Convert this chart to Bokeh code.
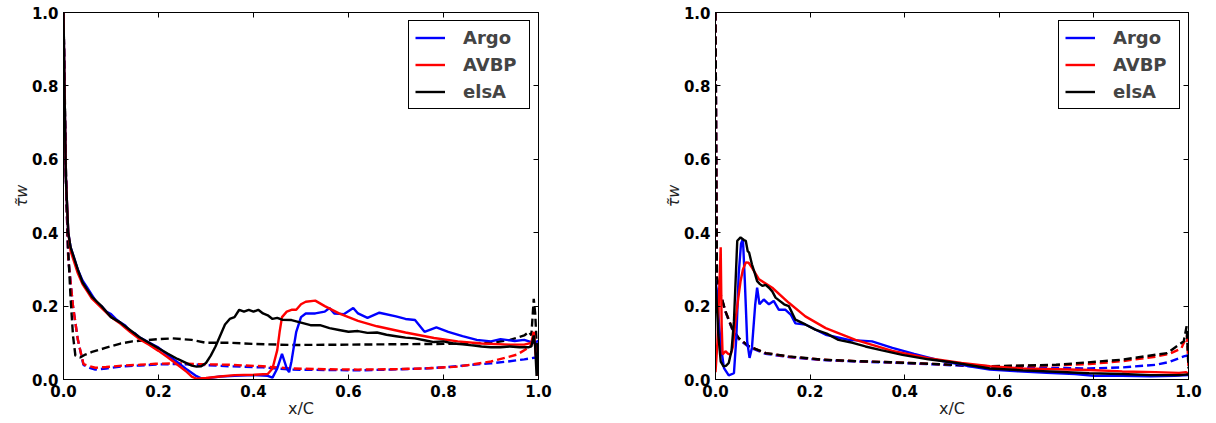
from bokeh.plotting import figure
from bokeh.layouts import row
from bokeh.models import Range1d, FixedTicker, PrintfTickFormatter, LinearAxis
from bokeh.embed import file_html
from bokeh.resources import INLINE

# ---------------- data: left panel ----------------
L_argo_x = [0.0, 0.002, 0.005, 0.01, 0.015, 0.02, 0.03, 0.04, 0.05, 0.06, 0.07, 0.08, 0.09, 0.10, 0.11,
            0.12, 0.13, 0.14, 0.15, 0.16, 0.18, 0.20, 0.22, 0.24, 0.26, 0.28, 0.29, 0.30, 0.33, 0.36,
            0.40, 0.43, 0.44, 0.45, 0.46, 0.47, 0.475, 0.48, 0.49, 0.50, 0.51, 0.53, 0.55, 0.56, 0.57,
            0.59, 0.61, 0.62, 0.64, 0.665, 0.70, 0.72, 0.74, 0.76, 0.785, 0.81, 0.84, 0.87, 0.90, 0.92,
            0.95, 0.97, 0.99, 1.0]
L_argo_y = [1.0, 0.8, 0.55, 0.40, 0.36, 0.34, 0.30, 0.27, 0.25, 0.23, 0.21, 0.20, 0.185, 0.178, 0.165,
            0.155, 0.147, 0.132, 0.126, 0.115, 0.101, 0.087, 0.066, 0.047, 0.027, 0.009, 0.003, 0.003, 0.008, 0.01,
            0.012, 0.01, 0.005, 0.03, 0.07, 0.03, 0.02, 0.05, 0.13, 0.17, 0.18, 0.18, 0.185, 0.195, 0.18,
            0.178, 0.195, 0.18, 0.168, 0.182, 0.172, 0.165, 0.162, 0.13, 0.142, 0.13, 0.118, 0.108, 0.104, 0.11,
            0.105, 0.108, 0.1, 0.105]

L_avbp_x = [0.0, 0.002, 0.005, 0.01, 0.015, 0.02, 0.03, 0.04, 0.05, 0.06, 0.08, 0.10, 0.12, 0.14, 0.16,
            0.18, 0.20, 0.22, 0.24, 0.26, 0.27, 0.28, 0.30, 0.33, 0.36, 0.40, 0.43, 0.44, 0.45, 0.455,
            0.46, 0.47, 0.48, 0.49, 0.50, 0.51, 0.53, 0.55, 0.58, 0.62, 0.66, 0.72, 0.78, 0.83, 0.88,
            0.94, 0.97, 0.985, 0.99, 0.995, 1.0]
L_avbp_y = [1.0, 0.8, 0.55, 0.40, 0.35, 0.33, 0.29, 0.26, 0.24, 0.22, 0.195, 0.17, 0.152, 0.13, 0.11,
            0.095, 0.078, 0.06, 0.04, 0.02, 0.008, 0.002, 0.004, 0.008, 0.012, 0.013, 0.015, 0.03, 0.08, 0.13,
            0.17, 0.185, 0.19, 0.19, 0.205, 0.212, 0.215, 0.2, 0.18, 0.16, 0.145, 0.128, 0.113, 0.104, 0.098,
            0.095, 0.095, 0.1, 0.13, 0.06, 0.01]

L_elsa_x = [0.0, 0.002, 0.005, 0.01, 0.015, 0.02, 0.03, 0.04, 0.05, 0.06, 0.08, 0.10, 0.12, 0.14, 0.16,
            0.18, 0.20, 0.22, 0.24, 0.26, 0.27, 0.28, 0.29, 0.30, 0.31, 0.32, 0.33, 0.34, 0.35, 0.36,
            0.37, 0.38, 0.39, 0.40, 0.41, 0.42, 0.43, 0.44, 0.45, 0.46, 0.48, 0.50, 0.52, 0.54, 0.56,
            0.58, 0.60, 0.62, 0.64, 0.66, 0.68, 0.70, 0.72, 0.74, 0.76, 0.78, 0.80, 0.82, 0.84, 0.86,
            0.88, 0.90, 0.92, 0.94, 0.96, 0.98, 0.985, 0.99, 0.993, 0.996, 1.0]
L_elsa_y = [1.0, 0.8, 0.55, 0.40, 0.36, 0.34, 0.30, 0.265, 0.245, 0.225, 0.2, 0.17, 0.155, 0.135, 0.115,
            0.1, 0.085, 0.07, 0.056, 0.044, 0.038, 0.035, 0.036, 0.045, 0.065, 0.09, 0.12, 0.15, 0.165, 0.17,
            0.19, 0.185, 0.19, 0.185, 0.19, 0.18, 0.175, 0.165, 0.168, 0.163, 0.162, 0.155, 0.148, 0.148, 0.14,
            0.135, 0.13, 0.132, 0.127, 0.128, 0.122, 0.118, 0.114, 0.112, 0.107, 0.102, 0.104, 0.098, 0.096, 0.093,
            0.09, 0.088, 0.088, 0.09, 0.088, 0.088, 0.09, 0.12, 0.09, 0.01, 0.1]

L_argo_ps_x = [0.0, 0.003, 0.006, 0.01, 0.02, 0.03, 0.042, 0.055, 0.067, 0.09, 0.124, 0.16, 0.194, 0.24,
               0.284, 0.35, 0.42, 0.478, 0.55, 0.62, 0.69, 0.76, 0.81, 0.86, 0.9, 0.935, 0.97, 0.994, 1.0]
L_argo_ps_y = [1.0, 0.7, 0.5, 0.33, 0.2, 0.11, 0.04, 0.032, 0.027, 0.03, 0.036, 0.038, 0.041, 0.042,
               0.04, 0.036, 0.033, 0.027, 0.026, 0.025, 0.027, 0.03, 0.034, 0.04, 0.044, 0.049, 0.055, 0.06, 0.062]

L_avbp_ps_x = [0.0, 0.003, 0.006, 0.01, 0.02, 0.03, 0.042, 0.055, 0.067, 0.09, 0.124, 0.16, 0.194, 0.24,
               0.284, 0.35, 0.42, 0.478, 0.55, 0.62, 0.69, 0.76, 0.83, 0.9, 0.955, 0.983, 0.99, 0.995, 1.0]
L_avbp_ps_y = [1.0, 0.7, 0.5, 0.33, 0.2, 0.11, 0.042, 0.036, 0.032, 0.034, 0.038, 0.04, 0.043, 0.044,
               0.042, 0.04, 0.036, 0.03, 0.028, 0.027, 0.028, 0.03, 0.035, 0.049, 0.068, 0.09, 0.12, 0.06, 0.01]

L_elsa_ps_x = [0.0, 0.003, 0.006, 0.01, 0.015, 0.02, 0.025, 0.035, 0.046, 0.06, 0.088, 0.12, 0.145, 0.2,
               0.23, 0.27, 0.3, 0.35, 0.4, 0.48, 0.6, 0.69, 0.8, 0.9, 0.94, 0.97, 0.98, 0.985, 0.99, 0.993,
               0.996, 1.0]
L_elsa_ps_y = [1.0, 0.75, 0.5, 0.35, 0.22, 0.12, 0.065, 0.06, 0.068, 0.075, 0.086, 0.098, 0.104, 0.11,
               0.112, 0.108, 0.1, 0.1, 0.097, 0.094, 0.095, 0.096, 0.097, 0.1, 0.108, 0.12, 0.13, 0.12, 0.22, 0.18,
               0.1, 0.05]

# ---------------- data: right panel ----------------
R_argo_x = [0.0, 0.003, 0.007, 0.011, 0.018, 0.028, 0.039, 0.044, 0.049, 0.054, 0.058, 0.062, 0.067, 0.072,
            0.077, 0.084, 0.088, 0.093, 0.102, 0.113, 0.123, 0.134, 0.148, 0.159, 0.169, 0.19, 0.233, 0.282,
            0.331, 0.374, 0.42, 0.48, 0.54, 0.58, 0.64, 0.7, 0.76, 0.8, 0.86, 0.92, 0.97, 1.0]
R_argo_y = [0.27, 0.24, 0.16, 0.095, 0.031, 0.011, 0.017, 0.113, 0.287, 0.37, 0.383, 0.268, 0.104, 0.059,
            0.086, 0.205, 0.25, 0.205, 0.218, 0.205, 0.214, 0.19, 0.19, 0.177, 0.153, 0.15, 0.122, 0.108,
            0.104, 0.086, 0.07, 0.05, 0.035, 0.027, 0.022, 0.018, 0.015, 0.01, 0.01, 0.009, 0.01, 0.012]

R_avbp_x = [0.0, 0.004, 0.008, 0.011, 0.013, 0.015, 0.021, 0.027, 0.032, 0.037, 0.042, 0.048, 0.053, 0.058,
            0.064, 0.07, 0.077, 0.092, 0.12, 0.155, 0.19, 0.233, 0.296, 0.374, 0.45, 0.52, 0.58, 0.65, 0.72,
            0.79, 0.86, 0.93, 0.98, 0.995, 1.0]
R_avbp_y = [0.02, 0.1, 0.25, 0.36, 0.15, 0.068, 0.077, 0.07, 0.068, 0.09, 0.159, 0.22, 0.268, 0.3,
            0.319, 0.318, 0.305, 0.273, 0.25, 0.209, 0.172, 0.14, 0.108, 0.078, 0.058, 0.045, 0.036, 0.03, 0.028,
            0.026, 0.022, 0.02, 0.018, 0.02, 0.015]

R_elsa_x = [0.0, 0.003, 0.006, 0.011, 0.017, 0.022, 0.028, 0.034, 0.039, 0.046, 0.053, 0.06, 0.064, 0.068,
            0.071, 0.077, 0.083, 0.088, 0.094, 0.099, 0.106, 0.113, 0.12, 0.127, 0.135, 0.145, 0.155, 0.169,
            0.19, 0.211, 0.235, 0.26, 0.29, 0.317, 0.35, 0.395, 0.45, 0.5, 0.58, 0.65, 0.72, 0.79, 0.86, 0.92,
            0.98, 1.0]
R_elsa_y = [0.27, 0.2, 0.122, 0.049, 0.036, 0.037, 0.045, 0.08, 0.159, 0.378, 0.387, 0.38, 0.378, 0.35,
            0.346, 0.314, 0.29, 0.268, 0.26, 0.255, 0.258, 0.25, 0.24, 0.223, 0.215, 0.205, 0.2, 0.163,
            0.15, 0.136, 0.125, 0.108, 0.1, 0.09, 0.08, 0.067, 0.055, 0.047, 0.03, 0.025, 0.021, 0.017, 0.015, 0.012,
            0.012, 0.014]

R_argo_ps_x = [0.0, 0.003, 0.011, 0.021, 0.035, 0.049, 0.071, 0.106, 0.155, 0.226, 0.296, 0.37, 0.45,
               0.58, 0.7, 0.79, 0.86, 0.93, 0.96, 0.99, 1.0]
R_argo_ps_y = [1.0, 0.27, 0.23, 0.185, 0.138, 0.11, 0.088, 0.07, 0.061, 0.053, 0.049, 0.046, 0.042,
               0.034, 0.032, 0.03, 0.033, 0.04, 0.048, 0.063, 0.066]

R_avbp_ps_x = [0.0, 0.003, 0.011, 0.021, 0.035, 0.049, 0.071, 0.106, 0.155, 0.226, 0.296, 0.37, 0.45,
               0.58, 0.7, 0.79, 0.86, 0.93, 0.96, 0.985, 0.997, 1.0]
R_avbp_ps_y = [1.0, 0.27, 0.23, 0.186, 0.14, 0.112, 0.09, 0.072, 0.062, 0.054, 0.05, 0.047, 0.043,
               0.036, 0.038, 0.042, 0.05, 0.062, 0.07, 0.085, 0.12, 0.03]

R_elsa_ps_x = [0.0, 0.003, 0.011, 0.021, 0.035, 0.049, 0.071, 0.106, 0.155, 0.226, 0.296, 0.37, 0.45,
               0.58, 0.72, 0.86, 0.955, 0.99, 0.996, 1.0]
R_elsa_ps_y = [1.0, 0.278, 0.232, 0.186, 0.14, 0.113, 0.09, 0.072, 0.063, 0.054, 0.05, 0.047, 0.043,
               0.036, 0.04, 0.054, 0.072, 0.104, 0.145, 0.03]

ticks = [0.0, 0.2, 0.4, 0.6, 0.8, 1.0]
series_names = ["Argo", "AVBP", "elsA"]
series_colors = ["#0000ff", "#ff0000", "#000000"]

FONT = "DejaVu Sans"
LW = 2.4


def make_panel(solid, dashed, width, border_left, border_right):
    p = figure(width=width, height=420, output_backend="svg", toolbar_location=None,
               x_range=Range1d(0, 1), y_range=Range1d(0, 1),
               min_border_left=border_left, min_border_right=border_right,
               min_border_top=12, min_border_bottom=41)
    p.grid.visible = False
    p.outline_line_color = "black"
    p.outline_line_width = 1
    p.background_fill_color = "white"
    p.border_fill_color = "white"

    for ax in (p.xaxis[0], p.yaxis[0]):
        ax.ticker = FixedTicker(ticks=ticks)
        ax.formatter = PrintfTickFormatter(format="%.1f")
        ax.major_tick_in = 5
        ax.major_tick_out = 0
        ax.minor_tick_line_color = None
        ax.axis_line_color = "black"
        ax.major_label_text_font = FONT
        ax.major_label_text_font_style = "bold"
        ax.major_label_text_font_size = "15px"
        ax.major_label_text_color = "black"
        ax.major_label_standoff = 5
        ax.axis_label_text_font = FONT
        ax.axis_label_text_font_size = "16px"
        ax.axis_label_text_font_style = "normal"
        ax.axis_label_text_color = "#222222"
    p.xaxis[0].axis_label = "x/C"
    p.xaxis[0].axis_label_standoff = -1
    p.yaxis[0].axis_label = "τ̃w"
    p.yaxis[0].axis_label_text_font_style = "italic"
    p.yaxis[0].axis_label_standoff = -2

    for loc in ("right", "above"):
        ax = LinearAxis(ticker=FixedTicker(ticks=ticks), major_tick_in=5, major_tick_out=0,
                        minor_tick_line_color=None, major_label_text_font_size="1px",
                        major_label_text_alpha=0.0, major_label_standoff=0,
                        axis_line_color="black")
        p.add_layout(ax, loc)

    for (xs, ys), name, col in zip(dashed, series_names, series_colors):
        p.line(xs, ys, line_color=col, line_width=LW, line_dash="8 4")
    for (xs, ys), name, col in zip(solid, series_names, series_colors):
        p.line(xs, ys, line_color=col, line_width=LW, legend_label=name)

    lg = p.legend[0]
    lg.location = "top_right"
    lg.margin = 8
    lg.padding = 6
    lg.spacing = 6
    lg.glyph_width = 30
    lg.glyph_height = 17
    lg.label_height = 17
    lg.label_width = 60
    lg.label_standoff = 18
    lg.label_text_font = FONT
    lg.label_text_font_style = "bold"
    lg.label_text_font_size = "18px"
    lg.border_line_color = "black"
    lg.border_line_width = 1
    lg.border_line_alpha = 1.0
    lg.background_fill_alpha = 1.0
    return p


p1 = make_panel([(L_argo_x, L_argo_y), (L_avbp_x, L_avbp_y), (L_elsa_x, L_elsa_y)],
                [(L_argo_ps_x, L_argo_ps_y), (L_avbp_ps_x, L_avbp_ps_y), (L_elsa_ps_x, L_elsa_ps_y)],
                608, 63, 70)
p2 = make_panel([(R_argo_x, R_argo_y), (R_avbp_x, R_avbp_y), (R_elsa_x, R_elsa_y)],
                [(R_argo_ps_x, R_argo_ps_y), (R_avbp_ps_x, R_avbp_ps_y), (R_elsa_ps_x, R_elsa_ps_y)],
                604, 107, 24)

layout = row(p1, p2)
open("out.html", "w").write(file_html(layout, INLINE))
